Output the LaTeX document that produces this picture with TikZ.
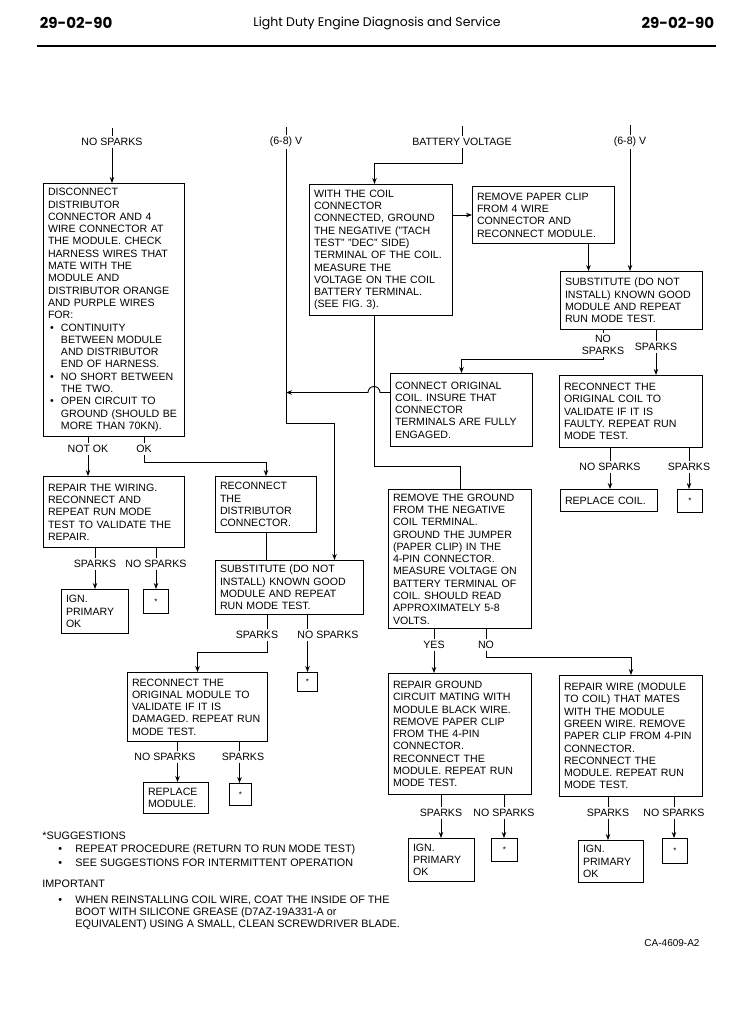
\documentclass[tikz,border=0pt]{standalone}
\usepackage{fontspec}
\setmainfont{Liberation Sans}
\newfontfamily\headfont{Poppins}
\usetikzlibrary{arrows.meta}

\newcommand{\bul}{\makebox[13pt][l]{\hspace{2pt}\textbullet}}
\newcommand{\bulind}{\hspace*{13pt}}
\newcommand{\notebul}{\hspace*{16pt}\makebox[17pt][l]{\textbullet}}
\newcommand{\noteind}{\hspace*{33pt}}

\tikzset{
    box/.style={draw, line width=1pt, anchor=north west, align=left, inner xsep=4.5pt, inner ysep=0pt, font=\fontsize{10.6}{12.3}\selectfont},
    starbox/.style={draw, line width=1pt, anchor=north west, inner sep=0pt, font=\footnotesize},
    lab/.style={inner sep=1.5pt, font=\fontsize{10.6}{12.3}\selectfont},
}

\begin{document}
\begin{tikzpicture}[x=1pt, y=-1pt, line width=0.9pt, >={Stealth[length=6pt,width=4.5pt]}]
    \useasboundingbox[fill=white] (0,0) rectangle (754,1023);
    % Page head.
        \node[anchor=west, font=\headfont\bfseries\fontsize{15}{15}\selectfont] (pgl) at (36,23) {29-02-90};
        \node[font=\headfont\fontsize{12.5}{15}\selectfont] (ttl) at (377,23) {Light Duty Engine Diagnosis and Service};
        \node[anchor=east, font=\headfont\bfseries\fontsize{15}{15}\selectfont] (pgr) at (718,23) {29-02-90};
        \draw[line width=1.6pt] (37,46) -- (716,46);
    % Below nodes are the boxes.
        \node[box, text width=132pt, minimum height=253pt] (disc) at (43,183) {DISCONNECT\\DISTRIBUTOR\\CONNECTOR AND 4\\WIRE CONNECTOR AT\\THE MODULE. CHECK\\HARNESS WIRES THAT\\MATE WITH THE\\MODULE AND\\DISTRIBUTOR ORANGE\\AND PURPLE WIRES\\FOR:\\\bul CONTINUITY\\\bulind BETWEEN MODULE\\\bulind AND DISTRIBUTOR\\\bulind END OF HARNESS.\\\bul NO SHORT BETWEEN\\\bulind THE TWO.\\\bul OPEN CIRCUIT TO\\\bulind GROUND (SHOULD BE\\\bulind MORE THAN 70KN).};
        \node[box, text width=134pt, minimum height=131pt] (withcoil) at (309,184) {WITH THE COIL\\CONNECTOR\\CONNECTED, GROUND\\THE NEGATIVE (''TACH\\TEST'' ''DEC'' SIDE)\\TERMINAL OF THE COIL.\\MEASURE THE\\VOLTAGE ON THE COIL\\BATTERY TERMINAL.\\(SEE FIG. 3).};
        \node[box, text width=133pt, minimum height=57pt] (rmclip) at (472,186) {REMOVE PAPER CLIP\\FROM 4 WIRE\\CONNECTOR AND\\RECONNECT MODULE.};
        \node[box, text width=133pt, minimum height=58pt] (substR) at (560,271) {SUBSTITUTE (DO NOT\\INSTALL) KNOWN GOOD\\MODULE AND REPEAT\\RUN MODE TEST.};
        \node[box, text width=133pt, minimum height=73pt] (connorig) at (390,373) {CONNECT ORIGINAL\\COIL. INSURE THAT\\CONNECTOR\\TERMINALS ARE FULLY\\ENGAGED.};
        \node[box, text width=134pt, minimum height=72pt] (recoil) at (559,375) {RECONNECT THE\\ORIGINAL COIL TO\\VALIDATE IF IT IS\\FAULTY. REPEAT RUN\\MODE TEST.};
        \node[box, text width=88pt, minimum height=22pt] (replcoil) at (560,489) {REPLACE COIL.};
        \node[starbox, minimum width=25pt, minimum height=23pt] (star1) at (677,489) {\raisebox{-2pt}{*}};
        \node[box, text width=134pt, minimum height=139pt] (rmground) at (388,489) {REMOVE THE GROUND\\FROM THE NEGATIVE\\COIL TERMINAL.\\GROUND THE JUMPER\\(PAPER CLIP) IN THE\\4-PIN CONNECTOR.\\MEASURE VOLTAGE ON\\BATTERY TERMINAL OF\\COIL. SHOULD READ\\APPROXIMATELY 5-8\\VOLTS.};
        \node[box, text width=134pt, minimum height=121pt] (repground) at (388,673) {REPAIR GROUND\\CIRCUIT MATING WITH\\MODULE BLACK WIRE.\\REMOVE PAPER CLIP\\FROM THE 4-PIN\\CONNECTOR.\\RECONNECT THE\\MODULE. REPEAT RUN\\MODE TEST.};
        \node[box, text width=134pt, minimum height=121pt] (repwire) at (559,675) {REPAIR WIRE (MODULE\\TO COIL) THAT MATES\\WITH THE MODULE\\GREEN WIRE. REMOVE\\PAPER CLIP FROM 4-PIN\\CONNECTOR.\\RECONNECT THE\\MODULE. REPEAT RUN\\MODE TEST.};
        \node[box, text width=57pt, minimum height=43pt] (ign3) at (408,838) {IGN.\\PRIMARY\\OK};
        \node[starbox, minimum width=26pt, minimum height=23pt] (star3) at (491,838) {\raisebox{-2pt}{*}};
        \node[box, text width=56pt, minimum height=42pt] (ign4) at (578,840) {IGN.\\PRIMARY\\OK};
        \node[starbox, minimum width=25pt, minimum height=25pt] (star4) at (662,838) {\raisebox{-2pt}{*}};
        \node[box, text width=132pt, minimum height=71pt] (repwiring) at (43,476) {REPAIR THE WIRING.\\RECONNECT AND\\REPEAT RUN MODE\\TEST TO VALIDATE THE\\REPAIR.};
        \node[box, text width=92pt, minimum height=56pt] (recdist) at (215,476) {RECONNECT\\THE\\DISTRIBUTOR\\CONNECTOR.};
        \node[box, text width=139pt, minimum height=54pt] (substM) at (215,560) {SUBSTITUTE (DO NOT\\INSTALL) KNOWN GOOD\\MODULE AND REPEAT\\RUN MODE TEST.};
        \node[box, text width=58pt, minimum height=44pt] (ign1) at (61,589) {IGN.\\PRIMARY\\OK};
        \node[starbox, minimum width=25pt, minimum height=24pt] (star0) at (143,589) {\raisebox{-2pt}{*}};
        \node[box, text width=131pt, minimum height=69pt] (recmod) at (127,672) {RECONNECT THE\\ORIGINAL MODULE TO\\VALIDATE IF IT IS\\DAMAGED. REPEAT RUN\\MODE TEST.};
        \node[box, text width=56pt, minimum height=31pt] (replmod) at (143,782) {REPLACE\\MODULE.};
        \node[starbox, minimum width=22pt, minimum height=22pt] (star2) at (229,783) {\raisebox{-2pt}{*}};
        \node[starbox, minimum width=20pt, minimum height=19pt] (star5) at (297,672) {\raisebox{-2pt}{*}};
    % Below nodes are the labels.
        \node[lab] (nspIn) at (112,142) {NO SPARKS};
        \node[lab] (vIn1) at (286,142) {(6-8) V};
        \node[lab] (batIn) at (462,142) {BATTERY VOLTAGE};
        \node[lab] (vIn2) at (630,142) {(6-8) V};
        \node[lab, align=center] (nsp1) at (603,345) {NO\\SPARKS};
        \node[lab] (sp1) at (656,347) {SPARKS};
        \node[lab] (nsp2) at (610,467) {NO SPARKS};
        \node[lab] (sp2) at (689,467) {SPARKS};
        \node[lab] (yes) at (434,645) {YES};
        \node[lab] (no) at (486,645) {NO};
        \node[lab] (sp3) at (441,813) {SPARKS};
        \node[lab] (nsp3) at (504,813) {NO SPARKS};
        \node[lab] (sp4) at (608,813) {SPARKS};
        \node[lab] (nsp4) at (674,813) {NO SPARKS};
        \node[lab] (nok) at (88,449) {NOT OK};
        \node[lab] (ok) at (144,449) {OK};
        \node[lab] (sp5) at (95,564) {SPARKS};
        \node[lab] (nsp5) at (156,564) {NO SPARKS};
        \node[lab] (sp6) at (257,635) {SPARKS};
        \node[lab] (nsp6) at (328,635) {NO SPARKS};
        \node[lab] (nsp7) at (165,757) {NO SPARKS};
        \node[lab] (sp7) at (243,757) {SPARKS};
    % Inputs at the top.
        \draw (nspIn.north) -- ++(0,-8);
        \draw[->] (nspIn.south) -- (nspIn.south |- disc.north);
        \draw (vIn1.north) -- ++(0,-8);
        \draw[->] (vIn1.south) -- ++(0,275) coordinate (vbend) -| ([xshift=45pt]substM.north);
        \draw (withcoil.south) ++(-6.5,0) coordinate (wcs) -- ++(0,150) -| (rmground.north);
        \draw (batIn.north) -- ++(0,-10);
        \draw[->] (batIn.south) -- ++(0,16) -| (wcs |- withcoil.north);
        \draw (vIn2.north) -- ++(0,-10);
        \draw[->] (vIn2.south) -- (vIn2.south |- substR.north);
        \draw[->] (rmclip.west -| withcoil.east) -- (rmclip.west);
        \draw (rmclip.south) ++(45,0) coordinate (rcs) -- ++(0,0);
        \draw[->] (rcs) -- (rcs |- substR.north);
    % Right column.
        \draw (nsp1.north |- substR.south) -- (nsp1.north);
        \draw[->] (nsp1.south) -- ++(0,2.5) -| (connorig.north);
        \draw (sp1.north |- substR.south) -- (sp1.north);
        \draw[->] (sp1.south) -- (sp1.south |- recoil.north);
        % This draws the jump over the line.
        \draw[->] ([yshift=17.5pt]connorig.west) coordinate (cw) -- ++(-10,0) arc[start angle=0, end angle=180, radius=6pt] -- (cw -| vbend);
        \draw (nsp2.north |- recoil.south) -- (nsp2.north);
        \draw[->] (nsp2.south) -- (nsp2.south |- replcoil.north);
        \draw (sp2.north |- recoil.south) -- (sp2.north);
        \draw[->] (sp2.south) -- (sp2.south |- star1.north);
        \draw (yes.north |- rmground.south) -- (yes.north);
        \draw[->] (yes.south) -- (yes.south |- repground.north);
        \draw (no.north |- rmground.south) -- (no.north);
        \draw[->] (no.south) -- ++(0,7) -| (repwire.north);
        \draw (sp3.north |- repground.south) -- (sp3.north);
        \draw[->] (sp3.south) -- (sp3.south |- ign3.north);
        \draw (nsp3.north |- repground.south) -- (nsp3.north);
        \draw[->] (nsp3.south) -- (nsp3.south |- star3.north);
        \draw (sp4.north |- repwire.south) -- (sp4.north);
        \draw[->] (sp4.south) -- (sp4.south |- ign4.north);
        \draw (nsp4.north |- repwire.south) -- (nsp4.north);
        \draw[->] (nsp4.south) -- (nsp4.south |- star4.north);
    % Left column.
        \draw (nok.north |- disc.south) -- (nok.north);
        \draw[->] (nok.south) -- (nok.south |- repwiring.north);
        \draw (ok.north |- disc.south) -- (ok.north);
        \draw[->] (ok.south) -- ++(0,8) -| (recdist.north);
        \draw (recdist.south) -- (recdist.south |- substM.north);
        \draw (sp5.north |- repwiring.south) -- (sp5.north);
        \draw[->] (sp5.south) -- (sp5.south |- ign1.north);
        \draw (nsp5.north |- repwiring.south) -- (nsp5.north);
        \draw[->] (nsp5.south) -- (nsp5.south |- star0.north);
        \draw (substM.south) ++(-22,0) coordinate (s6) -- (s6 |- sp6.north);
        \draw[->] (s6 |- sp6.south) -- ++(0,12) -| (recmod.north);
        \draw (substM.south) ++(18,0) coordinate (n6) -- (n6 |- nsp6.north);
        \draw[->] (n6 |- nsp6.south) -- (n6 |- star5.north);
        \draw (recmod.south) ++(-20,0) coordinate (n7) -- (n7 |- nsp7.north);
        \draw[->] (n7 |- nsp7.south) -- (n7 |- replmod.north);
        \draw (recmod.south) ++(42,0) coordinate (s7) -- (s7 |- sp7.north);
        \draw[->] (s7 |- sp7.south) -- (s7 |- star2.north);
    % Notes at the bottom.
        \node[anchor=north west, align=left, inner sep=0pt, font=\fontsize{10.8}{13.5}\selectfont] (sugg) at (42,831) {*SUGGESTIONS\\\notebul REPEAT PROCEDURE (RETURN TO RUN MODE TEST)\\\notebul SEE SUGGESTIONS FOR INTERMITTENT OPERATION};
        \node[anchor=north west, align=left, inner sep=0pt, font=\fontsize{10.8}{12.3}\selectfont] (imp) at (42,879) {IMPORTANT\\[4pt]\notebul WHEN REINSTALLING COIL WIRE, COAT THE INSIDE OF THE\\\noteind BOOT WITH SILICONE GREASE (D7AZ-19A331-A or\\\noteind EQUIVALENT) USING A SMALL, CLEAN SCREWDRIVER BLADE.};
        \node[font=\fontsize{10}{12}\selectfont] (fig) at (672,943) {CA-4609-A2};
\end{tikzpicture}
\end{document}
